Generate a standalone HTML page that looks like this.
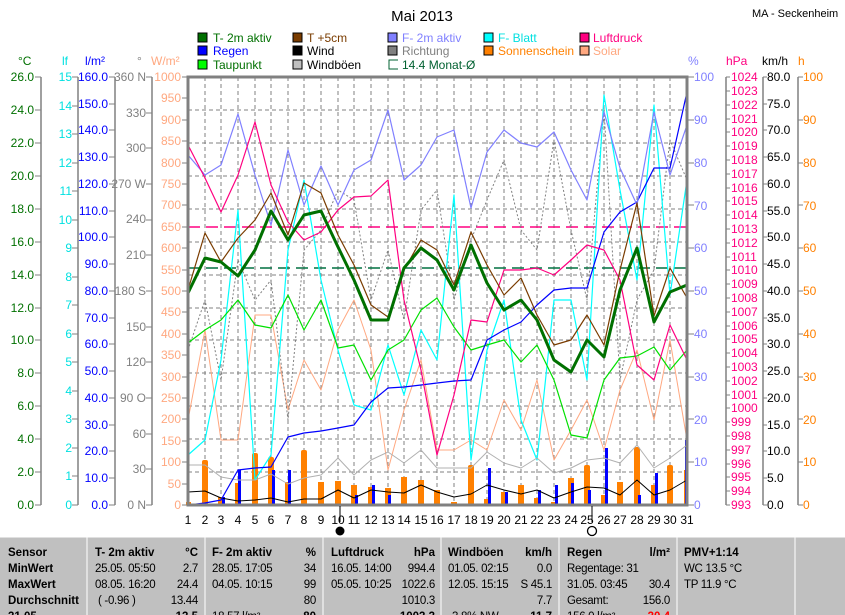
<!DOCTYPE html>
<html><head><meta charset="utf-8"><style>
html,body{margin:0;padding:0;background:#fff;}
svg{display:block;font-family:"Liberation Sans",sans-serif;}
</style></head><body>
<svg width="845" height="615" viewBox="0 0 845 615" xmlns="http://www.w3.org/2000/svg">
<rect width="845" height="615" fill="#fff"/>
<text x="422" y="21" font-size="15" text-anchor="middle">Mai 2013</text>
<text x="752" y="17" font-size="11">MA - Seckenheim</text>

<g font-size="12">
<rect x="198" y="33" width="9" height="9" fill="#007000" stroke="#000"/><text x="213" y="42" fill="#007000">T- 2m aktiv</text>
<rect x="293" y="33" width="9" height="9" fill="#7a3c00" stroke="#000"/><text x="307" y="42" fill="#7a3c00">T +5cm</text>
<rect x="388" y="33" width="9" height="9" fill="#8080ff" stroke="#000"/><text x="402" y="42" fill="#8080ff">F- 2m aktiv</text>
<rect x="484" y="33" width="9" height="9" fill="#00ffff" stroke="#000"/><text x="498" y="42" fill="#00e0e0">F- Blatt</text>
<rect x="580" y="33" width="9" height="9" fill="#ff0080" stroke="#000"/><text x="593" y="42" fill="#ff0080">Luftdruck</text>
<rect x="198" y="46" width="9" height="9" fill="#0000ff" stroke="#000"/><text x="213" y="55" fill="#0000ff">Regen</text>
<rect x="293" y="46" width="9" height="9" fill="#000" stroke="#000"/><text x="307" y="55" fill="#000">Wind</text>
<rect x="388" y="46" width="9" height="9" fill="#808080" stroke="#000"/><text x="402" y="55" fill="#808080">Richtung</text>
<rect x="484" y="46" width="9" height="9" fill="#ff8000" stroke="#000"/><text x="498" y="55" fill="#ff8000">Sonnenschein</text>
<rect x="580" y="46" width="9" height="9" fill="#ffa880" stroke="#000"/><text x="593" y="55" fill="#ffa880">Solar</text>
<rect x="198" y="60" width="9" height="9" fill="#00ff00" stroke="#000"/><text x="213" y="69" fill="#007000">Taupunkt</text>
<rect x="293" y="60" width="9" height="9" fill="#c0c0c0" stroke="#000"/><text x="307" y="69" fill="#000">Windböen</text>
<path d="M398 60 H389 V69 H398" fill="none" stroke="#006030"/><text x="402" y="69" fill="#006030">14.4 Monat-Ø</text>
</g>

<g font-size="12">
<text x="18" y="65" fill="#007000">°C</text>
<text x="62" y="65" fill="#00e0e0">lf</text>
<text x="85" y="65" fill="#0000ff">l/m²</text>
<text x="137" y="65" fill="#808080">°</text>
<text x="151" y="65" fill="#ffa880">W/m²</text>
<text x="688" y="65" fill="#8080ff">%</text>
<text x="726" y="65" fill="#ff0080">hPa</text>
<text x="762" y="65" fill="#000">km/h</text>
<text x="798" y="65" fill="#ff8000">h</text>
</g>

<g stroke="#808080" stroke-width="1.5">
<line x1="41" y1="77" x2="41" y2="505"/>
<line x1="78" y1="77" x2="78" y2="505"/>
<line x1="115" y1="77" x2="115" y2="505"/>
<line x1="152" y1="77" x2="152" y2="505"/>
<line x1="726" y1="77" x2="726" y2="505"/>
<line x1="763" y1="77" x2="763" y2="505"/>
<line x1="798" y1="77" x2="798" y2="505"/>
</g>

<g font-size="12" fill="#007000" text-anchor="end">
<text x="34" y="81">26.0</text><text x="34" y="114">24.0</text><text x="34" y="147">22.0</text><text x="34" y="180">20.0</text><text x="34" y="213">18.0</text><text x="34" y="246">16.0</text><text x="34" y="279">14.0</text><text x="34" y="312">12.0</text><text x="34" y="344">10.0</text><text x="34" y="377">8.0</text><text x="34" y="410">6.0</text><text x="34" y="443">4.0</text><text x="34" y="476">2.0</text><text x="34" y="509">0.0</text>
</g>
<path stroke="#808080" d="M35 77h6M35 110h6M35 143h6M35 176h6M35 209h6M35 242h6M35 275h6M35 308h6M35 340h6M35 373h6M35 406h6M35 439h6M35 472h6M35 505h6"/>
<g font-size="12" fill="#00e0e0" text-anchor="end">
<text x="72" y="81">15</text><text x="72" y="110">14</text><text x="72" y="138">13</text><text x="72" y="167">12</text><text x="72" y="195">11</text><text x="72" y="224">10</text><text x="72" y="252">9</text><text x="72" y="281">8</text><text x="72" y="309">7</text><text x="72" y="338">6</text><text x="72" y="366">5</text><text x="72" y="395">4</text><text x="72" y="423">3</text><text x="72" y="452">2</text><text x="72" y="480">1</text><text x="72" y="509">0</text>
</g>
<path stroke="#808080" d="M72 77h6M72 106h6M72 134h6M72 163h6M72 191h6M72 220h6M72 248h6M72 277h6M72 305h6M72 334h6M72 362h6M72 391h6M72 419h6M72 448h6M72 476h6M72 505h6"/>
<g font-size="12" fill="#0000ff" text-anchor="end">
<text x="108" y="81">160.0</text><text x="108" y="108">150.0</text><text x="108" y="134">140.0</text><text x="108" y="161">130.0</text><text x="108" y="188">120.0</text><text x="108" y="215">110.0</text><text x="108" y="241">100.0</text><text x="108" y="268">90.0</text><text x="108" y="295">80.0</text><text x="108" y="322">70.0</text><text x="108" y="348">60.0</text><text x="108" y="375">50.0</text><text x="108" y="402">40.0</text><text x="108" y="429">30.0</text><text x="108" y="455">20.0</text><text x="108" y="482">10.0</text><text x="108" y="509">0.0</text>
</g>
<path stroke="#808080" d="M109 77h6M109 104h6M109 130h6M109 157h6M109 184h6M109 211h6M109 237h6M109 264h6M109 291h6M109 318h6M109 344h6M109 371h6M109 398h6M109 425h6M109 451h6M109 478h6M109 505h6"/>
<g font-size="12" fill="#808080" text-anchor="end">
<text x="146" y="81">360 N</text><text x="146" y="117">330</text><text x="146" y="152">300</text><text x="146" y="188">270 W</text><text x="146" y="223">240</text><text x="146" y="259">210</text><text x="146" y="295">180 S</text><text x="146" y="331">150</text><text x="146" y="366">120</text><text x="146" y="402">90   O</text><text x="146" y="438">60</text><text x="146" y="473">30</text><text x="146" y="509">0   N</text>
</g>
<path stroke="#808080" d="M146 77h6M146 113h6M146 148h6M146 184h6M146 220h6M146 255h6M146 291h6M146 327h6M146 362h6M146 398h6M146 434h6M146 469h6M146 505h6"/>
<g font-size="12" fill="#ffa880" text-anchor="end">
<text x="181" y="81">1000</text><text x="181" y="102">950</text><text x="181" y="124">900</text><text x="181" y="145">850</text><text x="181" y="167">800</text><text x="181" y="188">750</text><text x="181" y="209">700</text><text x="181" y="231">650</text><text x="181" y="252">600</text><text x="181" y="274">550</text><text x="181" y="295">500</text><text x="181" y="316">450</text><text x="181" y="338">400</text><text x="181" y="359">350</text><text x="181" y="381">300</text><text x="181" y="402">250</text><text x="181" y="423">200</text><text x="181" y="445">150</text><text x="181" y="466">100</text><text x="181" y="488">50</text><text x="181" y="509">0</text>
</g>
<path stroke="#808080" d="M182 77h6M182 98h6M182 120h6M182 141h6M182 163h6M182 184h6M182 205h6M182 227h6M182 248h6M182 270h6M182 291h6M182 312h6M182 334h6M182 355h6M182 377h6M182 398h6M182 419h6M182 441h6M182 462h6M182 484h6M182 505h6"/>

<g font-size="12" fill="#8080ff">
<text x="694" y="81">100</text><text x="694" y="124">90</text><text x="694" y="167">80</text><text x="694" y="210">70</text><text x="694" y="252">60</text><text x="694" y="295">50</text><text x="694" y="338">40</text><text x="694" y="381">30</text><text x="694" y="424">20</text><text x="694" y="466">10</text><text x="694" y="509">0</text>
</g>
<path stroke="#808080" d="M688 77h6M688 120h6M688 163h6M688 205h6M688 248h6M688 291h6M688 334h6M688 377h6M688 419h6M688 462h6M688 505h6"/>
<g font-size="12" fill="#ff0080">
<text x="731" y="81">1024</text><text x="731" y="95">1023</text><text x="731" y="109">1022</text><text x="731" y="123">1021</text><text x="731" y="136">1020</text><text x="731" y="150">1019</text><text x="731" y="164">1018</text><text x="731" y="178">1017</text><text x="731" y="192">1016</text><text x="731" y="205">1015</text><text x="731" y="219">1014</text><text x="731" y="233">1013</text><text x="731" y="247">1012</text><text x="731" y="261">1011</text><text x="731" y="274">1010</text><text x="731" y="288">1009</text><text x="731" y="302">1008</text><text x="731" y="316">1007</text><text x="731" y="330">1006</text><text x="731" y="343">1005</text><text x="731" y="357">1004</text><text x="731" y="371">1003</text><text x="731" y="385">1002</text><text x="731" y="399">1001</text><text x="731" y="412">1000</text><text x="731" y="426">999</text><text x="731" y="440">998</text><text x="731" y="454">997</text><text x="731" y="468">996</text><text x="731" y="481">995</text><text x="731" y="495">994</text><text x="731" y="509">993</text>
</g>
<g font-size="12" fill="#000">
<text x="767" y="81">80.0</text><text x="767" y="108">75.0</text><text x="767" y="134">70.0</text><text x="767" y="161">65.0</text><text x="767" y="188">60.0</text><text x="767" y="215">55.0</text><text x="767" y="241">50.0</text><text x="767" y="268">45.0</text><text x="767" y="295">40.0</text><text x="767" y="322">35.0</text><text x="767" y="348">30.0</text><text x="767" y="375">25.0</text><text x="767" y="402">20.0</text><text x="767" y="429">15.0</text><text x="767" y="455">10.0</text><text x="767" y="482">5.0</text><text x="767" y="509">0.0</text>
</g>
<path stroke="#808080" d="M763 77h4M763 104h4M763 130h4M763 157h4M763 184h4M763 211h4M763 237h4M763 264h4M763 291h4M763 318h4M763 344h4M763 371h4M763 398h4M763 425h4M763 451h4M763 478h4M763 505h4 M726 77h4M726 91h4M726 105h4M726 119h4M726 132h4M726 146h4M726 160h4M726 174h4M726 188h4M726 201h4M726 215h4M726 229h4M726 243h4M726 257h4M726 270h4M726 284h4M726 298h4M726 312h4M726 326h4M726 339h4M726 353h4M726 367h4M726 381h4M726 395h4M726 408h4M726 422h4M726 436h4M726 450h4M726 464h4M726 477h4M726 491h4M726 505h4 M798 77h5M798 120h5M798 163h5M798 205h5M798 248h5M798 291h5M798 334h5M798 377h5M798 419h5M798 462h5M798 505h5"/>
<g font-size="12" fill="#ff8000">
<text x="803" y="81">100</text><text x="803" y="124">90</text><text x="803" y="167">80</text><text x="803" y="210">70</text><text x="803" y="252">60</text><text x="803" y="295">50</text><text x="803" y="338">40</text><text x="803" y="381">30</text><text x="803" y="424">20</text><text x="803" y="466">10</text><text x="803" y="509">0</text>
</g>

<g stroke="#808080" stroke-dasharray="4,3" stroke-width="1">
<path d="M205 77V505M221 77V505M238 77V505M255 77V505M271 77V505M288 77V505M304 77V505M321 77V505M338 77V505M354 77V505M371 77V505M388 77V505M404 77V505M421 77V505M437 77V505M454 77V505M471 77V505M487 77V505M504 77V505M521 77V505M537 77V505M554 77V505M571 77V505M587 77V505M604 77V505M620 77V505M637 77V505M654 77V505M670 77V505"/>
<path d="M188 110H687M188 143H687M188 176H687M188 209H687M188 242H687M188 275H687M188 308H687M188 340H687M188 373H687M188 406H687M188 439H687M188 472H687"/>
</g>

<line x1="188" y1="227" x2="687" y2="227" stroke="#ff0080" stroke-width="1.5" stroke-dasharray="12,6"/>
<line x1="188" y1="268" x2="687" y2="268" stroke="#007040" stroke-width="1.5" stroke-dasharray="12,6"/>

<g fill="#ff8000">
<rect x="186" y="502" width="5" height="3"/><rect x="202" y="460" width="6" height="45" rx="2"/><rect x="218" y="497" width="6" height="8"/><rect x="235" y="483" width="6" height="22"/><rect x="252" y="453" width="6" height="52" rx="2"/><rect x="268" y="457" width="6" height="48" rx="2"/><rect x="285" y="482" width="6" height="23"/><rect x="301" y="450" width="6" height="55" rx="2"/><rect x="318" y="482" width="6" height="23"/><rect x="335" y="481" width="6" height="24"/><rect x="351" y="485" width="6" height="20"/><rect x="368" y="487" width="6" height="18"/><rect x="385" y="488" width="6" height="17"/><rect x="401" y="477" width="6" height="28"/><rect x="418" y="480" width="6" height="25"/><rect x="434" y="490" width="6" height="15"/><rect x="451" y="502" width="6" height="3"/><rect x="468" y="465" width="6" height="40" rx="2"/><rect x="484" y="499" width="6" height="6"/><rect x="501" y="492" width="6" height="13"/><rect x="518" y="485" width="6" height="20"/><rect x="534" y="498" width="6" height="7"/><rect x="551" y="502" width="6" height="3"/><rect x="568" y="478" width="6" height="27"/><rect x="584" y="465" width="6" height="40" rx="2"/><rect x="601" y="495" width="6" height="10"/><rect x="617" y="482" width="6" height="23"/><rect x="634" y="447" width="6" height="58" rx="2"/><rect x="651" y="485" width="6" height="20"/><rect x="667" y="465" width="6" height="40" rx="2"/><rect x="684" y="470" width="4" height="35"/>
</g>
<g fill="#0000ff">
<rect x="222" y="497" width="3" height="8"/><rect x="238" y="470" width="3" height="35"/><rect x="272" y="470" width="3" height="35"/><rect x="288" y="470" width="3" height="35"/><rect x="355" y="495" width="3" height="10"/><rect x="372" y="485" width="3" height="20"/><rect x="388" y="495" width="3" height="10"/><rect x="488" y="468" width="3" height="37"/><rect x="505" y="492" width="3" height="13"/><rect x="538" y="490" width="3" height="15"/><rect x="555" y="485" width="3" height="20"/><rect x="571" y="483" width="3" height="22"/><rect x="588" y="490" width="3" height="15"/><rect x="605" y="448" width="3" height="57"/><rect x="638" y="495" width="3" height="10"/><rect x="655" y="473" width="3" height="32"/><rect x="685" y="440" width="3" height="65"/>
</g>

<g fill="none" stroke-linejoin="round">
<polyline stroke="#ffa880" points="188,420 205,330 221,440 238,440 255,315 271,315 288,410 304,360 321,390 338,330 354,300 371,350 388,470 404,410 421,360 437,450 454,450 471,440 487,450 504,400 521,430 537,380 554,460 571,430 587,400 604,450 620,390 637,350 654,420 670,340 687,440"/>
<polyline stroke="#808080" stroke-dasharray="2,2" points="188,350 205,300 221,380 238,260 255,300 271,280 288,420 304,250 321,230 338,190 354,200 371,300 388,250 404,320 421,210 437,190 454,300 471,240 487,200 504,160 521,230 537,250 554,140 571,230 587,300 604,110 620,380 637,300 654,270 670,140 687,180"/>
<polyline stroke="#00ffff" stroke-width="1.2" points="188,455 205,440 221,360 238,210 255,480 271,455 288,250 304,180 321,280 338,350 354,405 371,410 388,345 404,395 421,330 437,360 454,195 471,460 487,350 504,300 521,420 537,460 554,300 571,300 587,380 604,95 620,190 637,280 654,105 670,295 687,180"/>
<polyline stroke="#b0b0b0" points="188,465 205,465 221,477 238,480 255,480 271,474 288,484 304,478 321,475 338,458 354,475 371,460 388,452 404,463 421,450 437,468 454,468 471,468 487,452 504,463 521,468 537,458 554,473 571,468 587,460 604,458 620,463 637,445 654,468 670,458 687,445"/>
<polyline stroke="#000" points="188,492 205,491 221,498 238,501 255,500 271,498 288,502 304,499 321,499 338,490 354,498 371,490 388,492 404,493 421,485 437,492 454,497 471,494 487,485 504,490 521,494 537,490 554,498 571,492 587,487 604,488 620,495 637,480 654,495 670,490 687,480"/>
<polyline stroke="#00e000" stroke-width="1.2" points="188,343 205,330 221,320 238,300 255,325 271,328 288,295 304,330 321,300 338,348 354,345 371,380 388,350 404,340 421,310 437,298 454,327 471,350 487,345 504,340 521,362 537,345 554,380 571,435 587,438 604,380 620,358 637,356 654,347 670,370 687,350"/>
<polyline stroke="#0000ff" stroke-width="1.2" points="188,505 205,503 221,500 238,470 255,468 271,467 288,437 304,433 321,431 338,428 354,425 371,402 388,388 404,387 421,385 437,383 454,381 471,380 487,340 504,330 521,322 537,305 554,290 571,288 587,288 604,232 620,212 637,202 654,168 670,168 687,92"/>
<polyline stroke="#8080ff" stroke-width="1.2" points="188,155 205,175 221,165 238,114 255,175 271,225 288,150 304,205 321,166 338,205 354,170 371,160 388,110 404,180 421,165 437,137 454,130 471,208 487,152 504,130 521,143 537,147 554,132 571,170 587,200 604,112 620,168 637,205 654,112 670,175 687,125"/>
<polyline stroke="#ff0080" stroke-width="1.2" points="188,145 205,178 221,212 238,175 255,122 271,185 288,222 304,240 321,232 338,210 354,197 371,196 388,180 404,300 421,370 437,455 454,395 471,320 487,322 504,270 521,270 537,268 554,275 571,260 587,245 604,250 620,280 637,365 654,380 670,325 687,360"/>
<polyline stroke="#7a3c00" stroke-width="1.2" points="188,290 205,233 221,262 238,238 255,220 271,193 288,235 304,183 321,193 338,235 354,265 371,305 388,317 404,270 421,240 437,250 454,285 471,232 487,265 504,295 521,278 537,315 554,345 571,340 587,315 604,345 620,270 637,203 654,316 670,268 687,298"/>
<polyline stroke="#007000" stroke-width="3" points="188,293 205,258 221,262 238,276 255,250 271,211 288,240 304,215 321,211 338,247 354,280 371,320 388,320 404,268 421,248 437,260 454,290 471,245 487,283 504,310 521,300 537,320 554,360 571,372 587,340 604,357 620,290 637,248 654,322 670,292 687,285"/>
</g>

<rect x="188" y="77" width="499" height="428" fill="none" stroke="#808080" stroke-width="3"/>

<g font-size="12" text-anchor="middle" fill="#000">
<text x="188" y="524">1</text><text x="205" y="524">2</text><text x="221" y="524">3</text><text x="238" y="524">4</text><text x="255" y="524">5</text><text x="271" y="524">6</text><text x="288" y="524">7</text><text x="304" y="524">8</text><text x="321" y="524">9</text><text x="338" y="524">10</text><text x="354" y="524">11</text><text x="371" y="524">12</text><text x="388" y="524">13</text><text x="404" y="524">14</text><text x="421" y="524">15</text><text x="437" y="524">16</text><text x="454" y="524">17</text><text x="471" y="524">18</text><text x="487" y="524">19</text><text x="504" y="524">20</text><text x="521" y="524">21</text><text x="537" y="524">22</text><text x="554" y="524">23</text><text x="571" y="524">24</text><text x="587" y="524">25</text><text x="604" y="524">26</text><text x="620" y="524">27</text><text x="637" y="524">28</text><text x="654" y="524">29</text><text x="670" y="524">30</text><text x="687" y="524">31</text>
</g>
<line x1="340" y1="506" x2="340" y2="522" stroke="#000"/>
<line x1="592" y1="506" x2="592" y2="522" stroke="#000"/>
<circle cx="340" cy="531" r="4.5" fill="#000"/>
<circle cx="592" cy="531" r="4.5" fill="none" stroke="#000" stroke-width="1.3"/>

<rect x="0" y="537" width="845" height="78" fill="#c0c0c0"/>
<line x1="0" y1="537" x2="845" y2="537" stroke="#fff"/>
<g stroke="#fff"><path d="M87 537V615M205 537V615M323 537V615M441 537V615M559 537V615M677 537V615M795 537V615"/></g>
<g font-size="11.5" fill="#000">
<g font-weight="bold"><text x="8" y="556">Sensor</text><text x="8" y="572">MinWert</text><text x="8" y="588">MaxWert</text><text x="8" y="604">Durchschnitt</text><text x="8" y="620">31.05.</text>
<text x="95" y="556">T- 2m aktiv</text><text x="198" y="556" text-anchor="end">°C</text>
<text x="212" y="556">F- 2m aktiv</text><text x="316" y="556" text-anchor="end">%</text>
<text x="331" y="556">Luftdruck</text><text x="435" y="556" text-anchor="end">hPa</text>
<text x="448" y="556">Windböen</text><text x="552" y="556" text-anchor="end">km/h</text>
<text x="567" y="556">Regen</text><text x="670" y="556" text-anchor="end">l/m²</text>
<text x="684" y="556">PMV+1:14</text>
<text x="198" y="620" text-anchor="end">13.5</text><text x="316" y="620" text-anchor="end">80</text><text x="435" y="620" text-anchor="end">1003.3</text><text x="552" y="620" text-anchor="end">11.7</text><text x="670" y="620" text-anchor="end" fill="#ff0000">30.4</text></g>
<g letter-spacing="-0.3">
<text x="95" y="572">25.05.  05:50</text><text x="198" y="572" text-anchor="end">2.7</text>
<text x="95" y="588">08.05.  16:20</text><text x="198" y="588" text-anchor="end">24.4</text>
<text x="98" y="604">( -0.96 )</text><text x="198" y="604" text-anchor="end">13.44</text>
<text x="212" y="572">28.05.  17:05</text><text x="316" y="572" text-anchor="end">34</text>
<text x="212" y="588">04.05.  10:15</text><text x="316" y="588" text-anchor="end">99</text>
<text x="316" y="604" text-anchor="end">80</text>
<text x="212" y="620">18.57 l/m²</text>
<text x="331" y="572">16.05.  14:00</text><text x="435" y="572" text-anchor="end">994.4</text>
<text x="331" y="588">05.05.  10:25</text><text x="435" y="588" text-anchor="end">1022.6</text>
<text x="435" y="604" text-anchor="end">1010.3</text>
<text x="448" y="572">01.05.  02:15</text><text x="552" y="572" text-anchor="end">0.0</text>
<text x="448" y="588">12.05.  15:15</text><text x="552" y="588" text-anchor="end">S 45.1</text>
<text x="552" y="604" text-anchor="end">7.7</text>
<text x="452" y="620">3.8% NW</text>
<text x="567" y="572">Regentage: 31</text>
<text x="567" y="588">31.05.  03:45</text><text x="670" y="588" text-anchor="end">30.4</text>
<text x="567" y="604">Gesamt:</text><text x="670" y="604" text-anchor="end">156.0</text>
<text x="567" y="620">156.0 l/m²</text>
<text x="684" y="572">WC 13.5 °C</text>
<text x="684" y="588">TP 11.9 °C</text>
</g>
</g>
</svg>
</body></html>
